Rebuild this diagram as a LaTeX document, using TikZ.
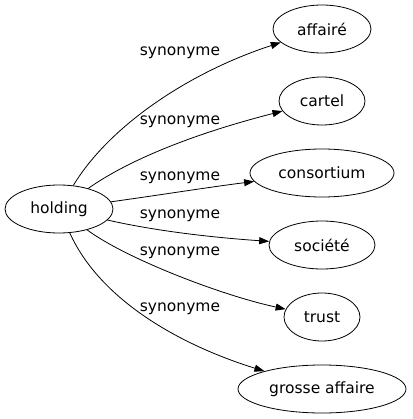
\documentclass[tikz,border=0pt]{standalone}
\usepackage{fontspec}
\setmainfont{DejaVu Sans}
\usetikzlibrary{shapes.geometric, arrows.meta, positioning}

\begin{document}
\begin{tikzpicture}[
	x=1pt, y=-1pt,
	word/.style={ellipse, draw, line width=0.8pt, inner sep=0pt, minimum height=48pt, font=\fontsize{15.5}{18}\selectfont},
	syn/.style={line width=0.8pt, -{Triangle[length=10pt, width=7pt]}},
	lbl/.style={font=\fontsize{15.5}{18}\selectfont},
]
	\useasboundingbox (0,0) rectangle (412,419);

	% source word (left)
	\node[word, minimum width=108pt] (holding) at (59,209) {holding};

	% synonyms (right column)
	\node[word, minimum width=98pt] (affaire) at (322,29) {affairé};
	\node[word, minimum width=86pt] (cartel) at (322,101) {cartel};
	\node[word, minimum width=144pt] (consortium) at (322,173) {consortium};
	\node[word, minimum width=106pt] (societe) at (322,245) {société};
	\node[word, minimum width=76pt] (trust) at (322,317) {trust};
	\node[word, minimum width=168pt] (grosse) at (322,389) {grosse affaire};

	% edges
	\draw[syn] (holding) .. controls (110,125) and (190,72) .. (affaire);
	\draw[syn] (holding) .. controls (140,152) and (220,127) .. (cartel);
	\draw[syn] (holding) .. controls (160,195) and (210,187) .. (consortium);
	\draw[syn] (holding) .. controls (160,232) and (220,238) .. (societe);
	\draw[syn] (holding) .. controls (125,258) and (220,295) .. (trust);
	\draw[syn] (holding) .. controls (100,300) and (180,345) .. (grosse);

	% edge labels
	\node[lbl] (l1) at (180,53) {synonyme};
	\node[lbl] (l2) at (180,122) {synonyme};
	\node[lbl] (l3) at (180,178) {synonyme};
	\node[lbl] (l4) at (180,216) {synonyme};
	\node[lbl] (l5) at (180,253) {synonyme};
	\node[lbl] (l6) at (180,309) {synonyme};

\end{tikzpicture}
\end{document}
